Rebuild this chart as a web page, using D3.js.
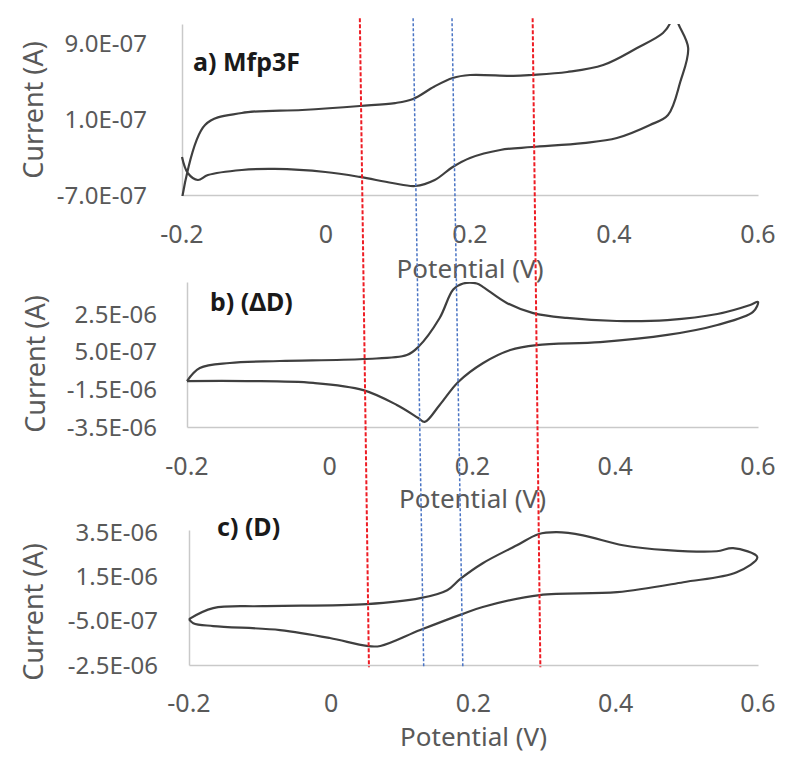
<!DOCTYPE html>
<html><head><meta charset="utf-8">
<script src="https://cdn.jsdelivr.net/npm/d3@7"></script>
<style>
html,body{margin:0;padding:0;background:#fff;}
svg{display:block;}
text{font-family:"Noto Sans", "Open Sans", sans-serif;}
</style></head>
<body>
<svg id="chart" width="800" height="767"></svg>
<script>
// ---------------- DATA ----------------
const xTickValues = [-0.2, 0, 0.2, 0.4, 0.6];
const xTitle = "Potential (V)";
const yTitle = "Current (A)";

// Panel a) Mfp3F : potential (V) and current (x1e-7 A), one CV loop
const aTitle = "a) Mfp3F";
const aPotential = [-0.2, -0.168, -0.117, -0.033, 0.047, 0.096, 0.121, 0.150, 0.176, 0.2, 0.26, 0.286, 0.335, 0.385, 0.432, 0.468, 0.478, 0.483, 0.489, 0.503, 0.492, 0.475,
  0.45, 0.404, 0.357, 0.286, 0.242, 0.2, 0.176, 0.151, 0.124, 0.092, 0.047, -0.001, -0.071, -0.117, -0.164, -0.178, -0.192, -0.2];
const aCurrentE7 = [-7.4, 0.37, 1.63, 1.95, 2.37, 2.68, 3.11, 4.4, 5.32, 5.63, 5.53, 5.63, 5.95, 6.68, 8.47, 10.05, 11.1, 12.7, 11.1, 8.47, 4.89, 1.42,
  0.37, -1.0, -1.53, -1.95, -2.26, -3.1, -4.05, -5.42, -6.05, -5.74, -5.1, -4.58, -4.26, -4.37, -4.9, -5.42, -4.68, -3.0];
const aYTicks = [-7e-7, 1e-7, 9e-7];

// Panel b) (ΔD) : potential (V) and current (x1e-6 A)
const bTitle = "b) (ΔD)";
const bPotential = [-0.2, -0.182, -0.14, -0.07, 0.047, 0.108, 0.124, 0.154, 0.173, 0.187, 0.206, 0.215, 0.248, 0.285, 0.332, 0.402, 0.473, 0.543, 0.589, 0.6,
  0.593, 0.543, 0.473, 0.379, 0.29, 0.253, 0.215, 0.18, 0.154, 0.133, 0.124, 0.094, 0.047, -0.023, -0.116, -0.2];
const bCurrentE6 = [-1.06, -0.37, -0.10, 0.005, 0.11, 0.32, 0.75, 2.29, 3.80, 4.12, 4.12, 3.93, 3.09, 2.55, 2.29, 2.13, 2.18, 2.50, 2.98, 3.14,
  2.61, 1.92, 1.39, 1.01, 0.85, 0.59, -0.10, -1.11, -2.33, -3.23, -3.02, -2.33, -1.54, -1.16, -1.06, -1.06];
const bYTicks = [-3.5e-6, -1.5e-6, 5e-7, 2.5e-6];

// Panel c) (D) : potential (V) and current (x1e-6 A)
const cTitle = "c) (D)";
const cPotential = [-0.2, -0.166, -0.096, 0.05, 0.125, 0.163, 0.181, 0.213, 0.261, 0.291, 0.317, 0.354, 0.41, 0.472, 0.542, 0.565, 0.599,
  0.570, 0.495, 0.402, 0.293, 0.213, 0.184, 0.125, 0.069, 0.05, -0.002, -0.072, -0.166, -0.194, -0.2];
const cCurrentE6 = [-0.425, 0.07, 0.16, 0.25, 0.52, 0.88, 1.38, 2.10, 2.91, 3.41, 3.50, 3.36, 2.91, 2.69, 2.64, 2.78, 2.37,
  1.69, 1.24, 0.79, 0.66, 0.12, -0.2, -0.92, -1.64, -1.64, -1.28, -0.92, -0.74, -0.61, -0.425];
const cYTicks = [-2.5e-6, -5e-7, 1.5e-6, 3.5e-6];

// Marker lines (potential at top of panel a and at bottom of panel c)
const markerTopPotential = [0.047, 0.121, 0.175, 0.287];
const markerBottomPotential = [0.053, 0.130, 0.185, 0.294];
const markerKind = ["red", "blue", "blue", "red"];

// ---------------- LAYOUT ----------------
const panels = [
  {title: aTitle, V: aPotential, I: aCurrentE7.map(v => v * 1e-7), yTicks: aYTicks, yDomain: [-7e-7, 1.1e-6],
   x0: 182, x1: 758, yBot: 195, yTop: 24, yLabX: 147, xLabY: 234, xTitleY: 269, yTitleX: 33, yTitleY: 110, titleX: 193, titleY: 62},
  {title: bTitle, V: bPotential, I: bCurrentE6.map(v => v * 1e-6), yTicks: bYTicks, yDomain: [-3.5e-6, 4.2e-6],
   x0: 187, x1: 758, yBot: 427, yTop: 282, yLabX: 157, xLabY: 466, xTitleY: 499, yTitleX: 35, yTitleY: 364, titleX: 210, titleY: 302},
  {title: cTitle, V: cPotential, I: cCurrentE6.map(v => v * 1e-6), yTicks: cYTicks, yDomain: [-2.5e-6, 3.6e-6],
   x0: 189, x1: 758, yBot: 665, yTop: 530, yLabX: 158, xLabY: 703, xTitleY: 737, yTitleX: 33, yTitleY: 612, titleX: 217, titleY: 527}
];

const svg = d3.select("#chart");
const fmtY = v => {
  const s = v.toExponential(1);
  const [m, e] = s.split("e");
  const sign = e[0] === "-" ? "-" : "+";
  const n = Math.abs(parseInt(e, 10));
  return m + "E" + sign + String(n).padStart(2, "0");
};
const fmtX = v => (Math.abs(v) < 1e-9 ? "0" : String(+v.toFixed(1)));

const axisColor = "#c9c9c9";
const textColor = "#595959";
const lineColor = "#3f3f3f";

panels.forEach((p, i) => {
  p.x = d3.scaleLinear().domain([-0.2, 0.6]).range([p.x0, p.x1]);
  p.y = d3.scaleLinear().domain(p.yDomain).range([p.yBot, p.yTop]);
  const g = svg.append("g");

  const cid = "clip" + i;
  svg.append("clipPath").attr("id", cid).append("rect")
    .attr("x", p.x0 - 4).attr("y", p.yTop).attr("width", p.x1 - p.x0 + 8).attr("height", p.yBot - p.yTop + 1);

  const yAxis = d3.axisLeft(p.y).tickValues([]).tickSize(0).tickSizeOuter(0);
  const yg = g.append("g").attr("transform", `translate(${p.x0},0)`).call(yAxis);
  yg.select(".domain").attr("stroke", axisColor).attr("stroke-width", 1.5);
  const xAxis = d3.axisBottom(p.x).tickValues([]).tickSize(0).tickSizeOuter(0);
  const xg = g.append("g").attr("transform", `translate(0,${p.yBot})`).call(xAxis);
  xg.select(".domain").attr("stroke", axisColor).attr("stroke-width", 1.5);

  g.selectAll(".ytl").data(p.yTicks).enter().append("text")
    .attr("x", p.yLabX).attr("y", d => p.y(d)).attr("dy", "0.36em")
    .attr("text-anchor", "end").attr("font-size", 24).attr("fill", textColor)
    .text(fmtY);
  g.selectAll(".xtl").data(xTickValues).enter().append("text")
    .attr("x", d => p.x(d)).attr("y", p.xLabY).attr("dy", "0.36em")
    .attr("text-anchor", "middle").attr("font-size", 25).attr("fill", textColor)
    .text(fmtX);
  g.append("text").attr("x", p.x(0.2)).attr("y", p.xTitleY).attr("dy", "0.36em")
    .attr("text-anchor", "middle").attr("font-size", 26).attr("fill", textColor).text(xTitle);
  g.append("text").attr("transform", `translate(${p.yTitleX},${p.yTitleY}) rotate(-90)`)
    .attr("dy", "0.36em").attr("text-anchor", "middle").attr("font-size", 27).attr("fill", textColor).text(yTitle);
  g.append("text").attr("x", p.titleX).attr("y", p.titleY).attr("dy", "0.36em")
    .attr("font-size", 25).attr("font-weight", "bold").attr("fill", "#1a1a1a").text(p.title);

  const pts = p.V.map((v, k) => [v, p.I[k]]);
  const line = d3.line().x(d => p.x(d[0])).y(d => p.y(d[1])).curve(d3.curveCatmullRom.alpha(0.5));
  g.append("path").datum(pts).attr("clip-path", `url(#${cid})`)
    .attr("d", line).attr("fill", "none").attr("stroke", lineColor).attr("stroke-width", 2.2)
    .attr("stroke-linejoin", "round");
});

const pa = panels[0], pc = panels[2];
const yTopMarker = pa.y(1.16e-6);
const yBotMarker = pc.y(-2.6e-6);
svg.append("g").selectAll("line").data(markerTopPotential).enter().append("line")
  .attr("x1", d => pa.x(d)).attr("y1", yTopMarker)
  .attr("x2", (d, k) => pc.x(markerBottomPotential[k])).attr("y2", yBotMarker)
  .attr("stroke", (d, k) => markerKind[k] === "red" ? "#ee1c24" : "#4a74c4")
  .attr("stroke-width", (d, k) => markerKind[k] === "red" ? 2 : 1.5)
  .attr("stroke-dasharray", (d, k) => markerKind[k] === "red" ? "4,2" : "3,2");
</script>
</body></html>
